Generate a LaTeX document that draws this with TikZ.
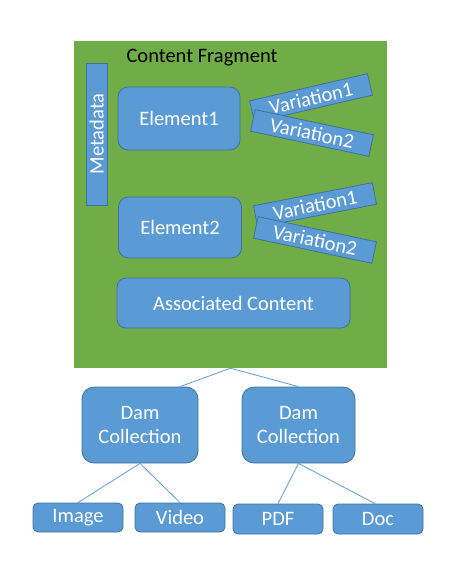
\documentclass[tikz,border=0pt]{standalone}
\usepackage{fontspec}
\setmainfont{Carlito}
\definecolor{frag}{HTML}{70AD47}
\definecolor{boxfill}{HTML}{5B9BD5}
\definecolor{boxline}{HTML}{41719C}
\begin{document}
\begin{tikzpicture}[x=1pt,y=-1pt,
  box/.style={draw=boxline, fill=boxfill, text=white, line width=0.8pt, inner sep=0pt, font=\fontsize{20.5}{24}\selectfont},
  varbox/.style={box, minimum width=121pt, minimum height=22pt, font=\fontsize{20.5}{24}\selectfont},
  link/.style={draw=boxfill, line width=0.8pt}]
\useasboundingbox (0,0) rectangle (474,566);
\node[fill=frag, minimum width=313pt, minimum height=327pt, inner sep=0pt] (cf) at (230.5,204.5) {};
\node[font=\fontsize{20.5}{24}\selectfont, text=black] (cft) at (202,58) {Content Fragment};
\node[box, minimum width=21pt, minimum height=142pt] (meta) at (96.5,134) {\rotatebox{90}{Metadata}};
\node[box, rounded corners=10pt, minimum width=122pt, minimum height=63pt] (e1) at (179,118.5) {Element1};
\node[varbox, rotate=13] (v11) at (311,98) {\raisebox{-3pt}{Variation1}};
\node[varbox, rotate=-12] (v12) at (312,133) {Variation2};
\node[box, rounded corners=10pt, minimum width=123pt, minimum height=61pt] (e2) at (180,227.5) {Element2};
\node[varbox, rotate=11] (v21) at (315,205) {\raisebox{-3pt}{Variation1}};
\node[varbox, rotate=-12] (v22) at (315,240) {Variation2};
\node[box, rounded corners=9pt, minimum width=233pt, minimum height=50pt] (ac) at (233.5,303) {Associated Content};
\node[box, rounded corners=12pt, minimum width=116pt, minimum height=76pt, align=center] (d1) at (140,425) {Dam\\Collection};
\node[box, rounded corners=12pt, minimum width=113pt, minimum height=76pt, align=center] (d2) at (298.5,425) {Dam\\Collection};
\node[box, rounded corners=5pt, minimum width=90pt, minimum height=29pt] (img) at (78,517.5) {Image};
\node[box, rounded corners=5pt, minimum width=90pt, minimum height=29pt] (vid) at (180,517.5) {Video};
\node[box, rounded corners=5pt, minimum width=90pt, minimum height=30pt] (pdf) at (278,519) {PDF};
\node[box, rounded corners=5pt, minimum width=90pt, minimum height=30pt] (doc) at (378,519) {Doc};
\draw[link] (cf.south) -- ([xshift=40pt]d1.north);
\draw[link] (cf.south) -- (d2.north);
\draw[link] (d1.south) -- (img.north);
\draw[link] (d1.south) -- (vid.north);
\draw[link] (d2.south) -- (pdf.north);
\draw[link] (d2.south) -- ([xshift=-3pt]doc.north);
\end{tikzpicture}
\end{document}
